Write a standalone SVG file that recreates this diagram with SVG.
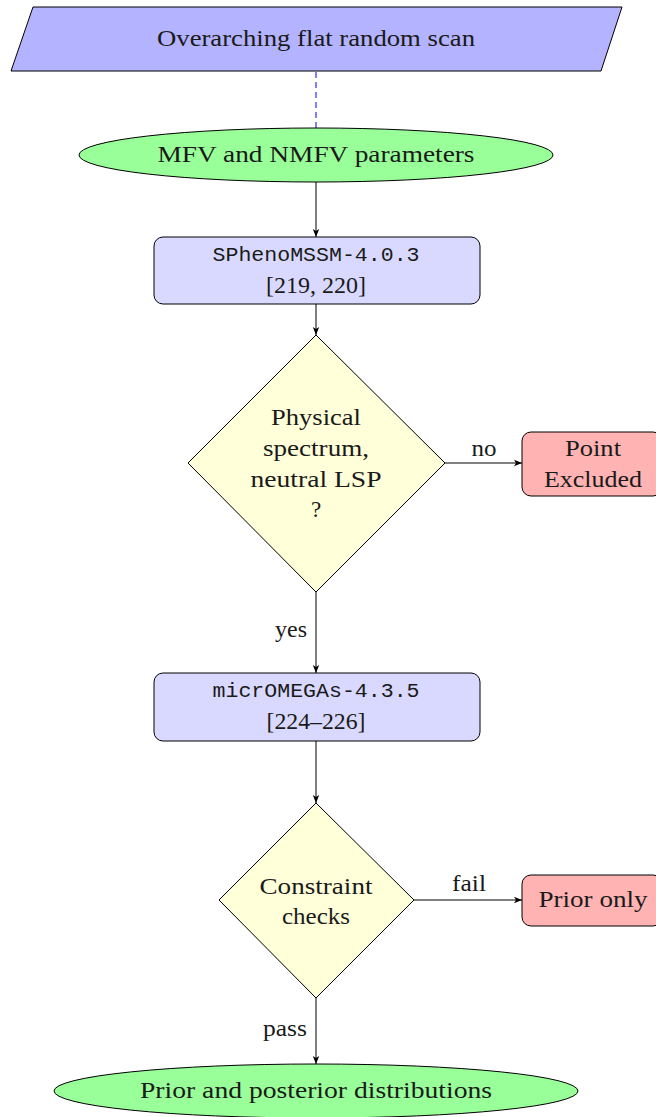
<svg xmlns="http://www.w3.org/2000/svg" width="656" height="1117" viewBox="0 0 656 1117">
<defs>
<marker id="arr" viewBox="0 0 10 10" refX="10" refY="5" markerWidth="8" markerHeight="8" markerUnits="userSpaceOnUse" orient="auto">
<path d="M0,1 L10,5 L0,9 L2.5,5 Z" fill="#000"/>
</marker>
<style>
text{font-family:"Liberation Serif","DejaVu Serif",serif;font-size:23px;fill:#1a1a1a;text-anchor:middle}
.mono{font-family:"Liberation Mono","DejaVu Sans Mono",monospace;font-size:20px}
.shape{stroke:#000;stroke-width:1}
.edge{stroke:#000;stroke-width:1;fill:none;marker-end:url(#arr)}
</style>
</defs>
<g id="connectors">
<line x1="316" y1="72" x2="316" y2="128" stroke="#0000ff" stroke-width="1" stroke-dasharray="6,4"/>
<line class="edge" x1="316" y1="182" x2="316" y2="237"/>
<line class="edge" x1="316" y1="304" x2="316" y2="335"/>
<line class="edge" x1="445" y1="463" x2="522" y2="463"/>
<line class="edge" x1="316" y1="592" x2="316" y2="673"/>
<line class="edge" x1="316" y1="741" x2="316" y2="803"/>
<line class="edge" x1="414" y1="900" x2="522" y2="900"/>
<line class="edge" x1="316" y1="998" x2="316" y2="1064"/>
<text x="484" y="456" textLength="25" lengthAdjust="spacingAndGlyphs">no</text>
<text x="291" y="637" textLength="32" lengthAdjust="spacingAndGlyphs">yes</text>
<text x="469" y="891" textLength="34" lengthAdjust="spacingAndGlyphs">fail</text>
<text x="285" y="1036" textLength="44" lengthAdjust="spacingAndGlyphs">pass</text>
</g>
<g id="scan">
<polygon class="shape" points="33,7 622,7 601,71 11,71" fill="#b3b3ff"/>
<text x="316" y="46" textLength="318" lengthAdjust="spacingAndGlyphs">Overarching flat random scan</text>
</g>
<g id="params">
<ellipse class="shape" cx="316" cy="155" rx="237" ry="27" fill="#99ff99"/>
<text x="316" y="162" textLength="317" lengthAdjust="spacingAndGlyphs">MFV and NMFV parameters</text>
</g>
<g id="spheno">
<rect class="shape" x="154" y="237" width="326" height="67" rx="9" fill="#d9d9ff"/>
<text class="mono" x="316" y="261" textLength="207" lengthAdjust="spacingAndGlyphs">SPhenoMSSM-4.0.3</text>
<text x="316" y="293" textLength="100" lengthAdjust="spacingAndGlyphs">[219, 220]</text>
</g>
<g id="physical">
<polygon class="shape" points="316,335 445,463 316,592 188,463" fill="#ffffd9"/>
<text x="316" y="425" textLength="90" lengthAdjust="spacingAndGlyphs">Physical</text>
<text x="316" y="456" textLength="106" lengthAdjust="spacingAndGlyphs">spectrum,</text>
<text x="316" y="487" textLength="131" lengthAdjust="spacingAndGlyphs">neutral LSP</text>
<text x="316" y="517">?</text>
</g>
<g id="excluded">
<rect class="shape" x="522" y="432" width="140" height="64" rx="9" fill="#ffb3b3"/>
<text x="593" y="456" textLength="56" lengthAdjust="spacingAndGlyphs">Point</text>
<text x="593" y="487" textLength="98" lengthAdjust="spacingAndGlyphs">Excluded</text>
</g>
<g id="micromegas">
<rect class="shape" x="154" y="673" width="326" height="68" rx="9" fill="#d9d9ff"/>
<text class="mono" x="316" y="697" textLength="207" lengthAdjust="spacingAndGlyphs">micrOMEGAs-4.3.5</text>
<text x="316" y="729" textLength="99" lengthAdjust="spacingAndGlyphs">[224–226]</text>
</g>
<g id="constraints">
<polygon class="shape" points="316,803 414,900 316,998 219,900" fill="#ffffd9"/>
<text x="316" y="894" textLength="113" lengthAdjust="spacingAndGlyphs">Constraint</text>
<text x="316" y="924" textLength="68" lengthAdjust="spacingAndGlyphs">checks</text>
</g>
<g id="prioronly">
<rect class="shape" x="522" y="875" width="140" height="51" rx="9" fill="#ffb3b3"/>
<text x="593" y="907" textLength="109" lengthAdjust="spacingAndGlyphs">Prior only</text>
</g>
<g id="distributions">
<ellipse class="shape" cx="316" cy="1091" rx="262" ry="27" fill="#99ff99"/>
<text x="316" y="1098" textLength="352" lengthAdjust="spacingAndGlyphs">Prior and posterior distributions</text>
</g>
</svg>
